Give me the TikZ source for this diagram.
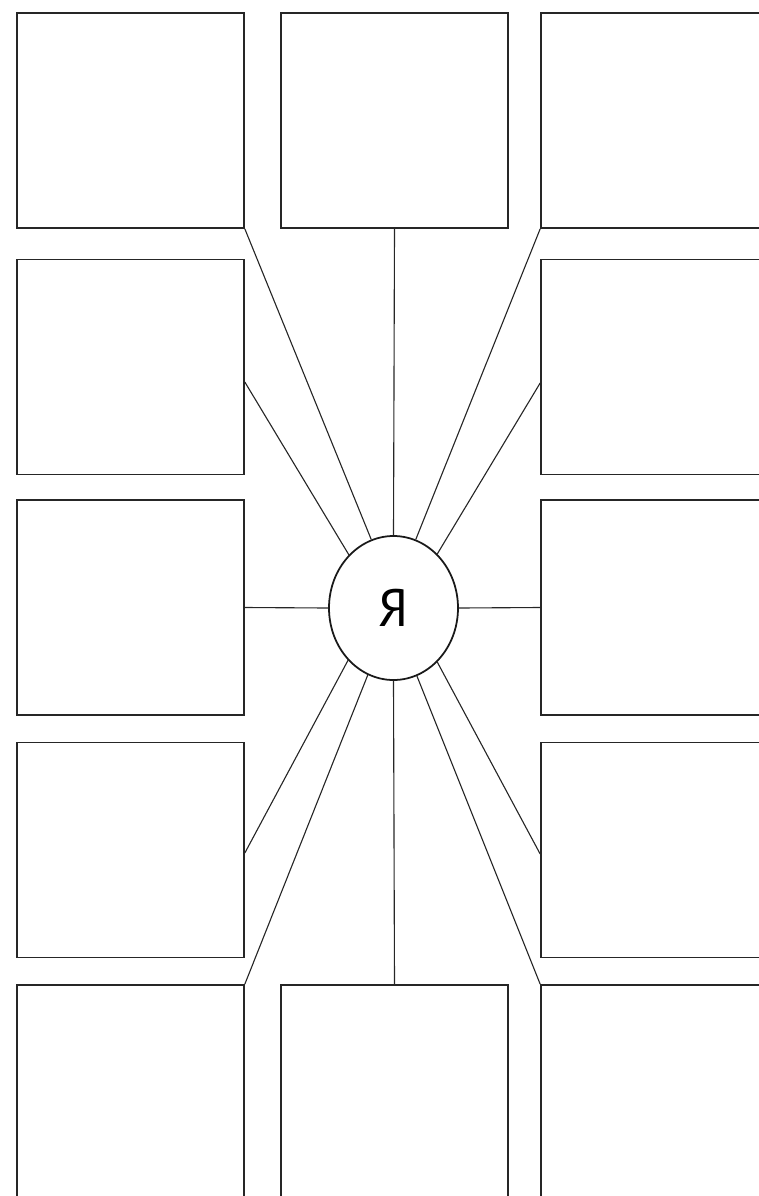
\documentclass[tikz,border=0pt]{standalone}
\usepackage{fontspec}
\newfontfamily\ptsans{PT Sans}
\usetikzlibrary{shapes.geometric,calc}
\begin{document}
\begin{tikzpicture}[x=0.03cm,y=-0.03cm,
  cell/.style={draw=black!85,line width=1.4pt,rectangle,inner sep=0pt,
    minimum width=227*0.03cm,minimum height=215*0.03cm},
  hub/.style={draw=black!90,line width=1.5pt,ellipse,inner sep=0pt,
    minimum width=129*0.03cm,minimum height=144*0.03cm,
    font=\ptsans\fontsize{45}{45}\selectfont},
  link/.style={draw=black!85,line width=0.95pt}]
\useasboundingbox (0,0) rectangle (759,1196);
\clip (0,0) rectangle (759,1196);
% column centres: 130.5, 394.5, 654.5 ; row centres: 120.5, 367, 607.5, 850, 1092.5
\node[cell] (b11) at (130.5,120.5) {};
\node[cell] (b12) at (394.5,120.5) {};
\node[cell] (b13) at (654.5,120.5) {};
\node[cell] (b21) at (130.5,367) {};
\node[cell] (b23) at (654.5,367) {};
\node[cell] (b31) at (130.5,607.5) {};
\node[cell] (b33) at (654.5,607.5) {};
\node[cell] (b41) at (130.5,850) {};
\node[cell] (b43) at (654.5,850) {};
\node[cell] (b51) at (130.5,1092.5) {};
\node[cell] (b52) at (394.5,1092.5) {};
\node[cell] (b53) at (654.5,1092.5) {};
\node[hub] (me) at (393.5,608) {Я};
\draw[link] (b11.south east) -- (me.108);
\draw[link] (b12.south) -- (me.north);
\draw[link] (b13.south west) -- (me.72.5);
\draw[link] ($(b21.east)+(0,15)$) -- (me.130);
\draw[link] ($(b23.west)+(0,16)$) -- (me.51);
\draw[link] (b31.east) -- (me.west);
\draw[link] (b33.west) -- (me.east);
\draw[link] ($(b41.east)+(0,3)$) -- (me.229.6);
\draw[link] ($(b43.west)+(0,4)$) -- (me.309);
\draw[link] (b51.north east) -- (me.249);
\draw[link] (b52.north) -- (me.south);
\draw[link] (b53.north west) -- (me.289.4);
\end{tikzpicture}
\end{document}
